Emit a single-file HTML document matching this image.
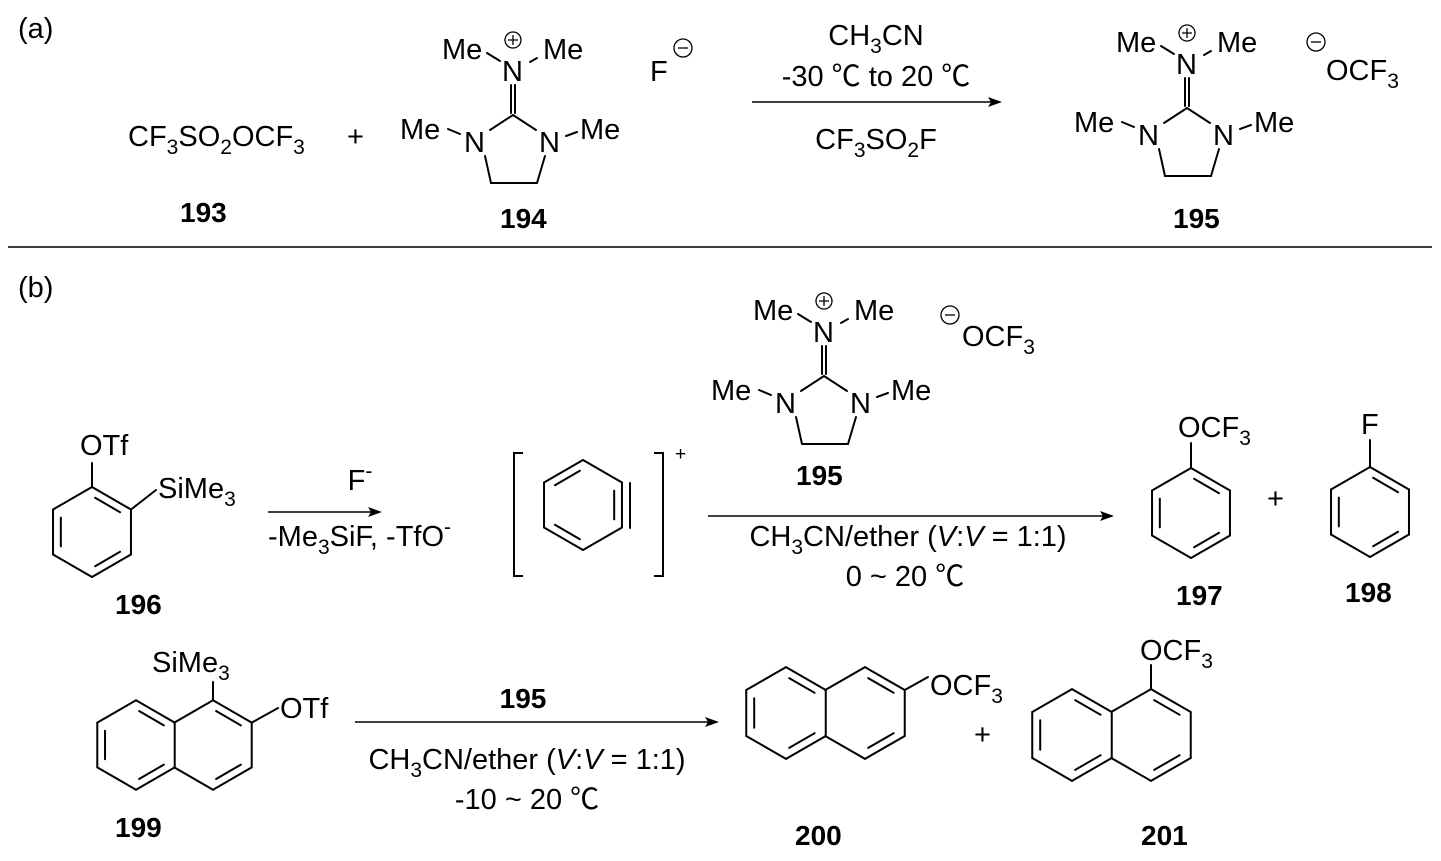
<!DOCTYPE html>
<html><head><meta charset="utf-8"><style>
html,body{margin:0;padding:0;background:#fff;}
svg{display:block;font-family:"Liberation Sans","Noto Sans CJK SC",sans-serif;}
text{font-size:29px;fill:#000;}
.b{font-weight:bold;font-size:28px;}
.s{font-size:21px;}
</style></head><body>
<svg id="sv" width="1441" height="861" viewBox="0 0 1441 861" xmlns="http://www.w3.org/2000/svg">
<g id="bonds" stroke="#000" stroke-width="2" fill="none" stroke-linecap="round"></g>
<text x="18" y="38">(a)</text>
<text x="128" y="146">CF<tspan class="s" dy="8">3</tspan><tspan dy="-8">SO</tspan><tspan class="s" dy="8">2</tspan><tspan dy="-8">OCF</tspan><tspan class="s" dy="8">3</tspan></text>
<text x="347" y="146">+</text>
<text class="b" x="180" y="222">193</text>
<text x="650" y="81">F</text>
<circle cx="683" cy="48" r="9" stroke="#000" stroke-width="1.3" fill="none"/>
<line x1="678" y1="48" x2="688" y2="48" stroke="#000" stroke-width="1.3"/>
<text class="b" x="500" y="228">194</text>
<text x="876" y="45" text-anchor="middle">CH<tspan class="s" dy="8">3</tspan><tspan dy="-8">CN</tspan></text>
<text x="876" y="86" text-anchor="middle">-30 ℃ to 20 ℃</text>
<text x="876" y="149" text-anchor="middle">CF<tspan class="s" dy="8">3</tspan><tspan dy="-8">SO</tspan><tspan class="s" dy="8">2</tspan><tspan dy="-8">F</tspan></text>
<circle cx="1316" cy="42" r="9" stroke="#000" stroke-width="1.3" fill="none"/>
<line x1="1311" y1="42" x2="1321" y2="42" stroke="#000" stroke-width="1.3"/>
<text x="1326" y="80">OCF<tspan class="s" dy="8">3</tspan></text>
<text class="b" x="1173" y="228">195</text>
<line x1="8" y1="247" x2="1432" y2="247" stroke="#000" stroke-width="1.5"/>
<text x="18" y="297">(b)</text>
<circle cx="950" cy="315" r="9" stroke="#000" stroke-width="1.3" fill="none"/>
<line x1="945" y1="315" x2="955" y2="315" stroke="#000" stroke-width="1.3"/>
<text x="962" y="346">OCF<tspan class="s" dy="8">3</tspan></text>
<text class="b" x="796" y="485">195</text>
<text x="80" y="455">OTf</text>
<text x="158" y="498">SiMe<tspan class="s" dy="8">3</tspan></text>
<text class="b" x="115" y="614">196</text>
<text x="360" y="490" text-anchor="middle">F<tspan class="s" dy="-12">-</tspan></text>
<text x="268" y="546">-Me<tspan class="s" dy="8">3</tspan><tspan dy="-8">SiF, -TfO</tspan><tspan class="s" dy="-12">-</tspan></text>
<text x="675" y="460" style="font-size:19px">+</text>
<text x="908" y="546" text-anchor="middle">CH<tspan class="s" dy="8">3</tspan><tspan dy="-8">CN/ether (</tspan><tspan font-style="italic">V</tspan>:<tspan font-style="italic">V</tspan> = 1:1)</text>
<text x="905" y="586" text-anchor="middle">0 ~ 20 ℃</text>
<text x="1178" y="437">OCF<tspan class="s" dy="8">3</tspan></text>
<text x="1361" y="434">F</text>
<text x="1267" y="508">+</text>
<text class="b" x="1176" y="605">197</text>
<text class="b" x="1345" y="602">198</text>
<text x="152" y="672">SiMe<tspan class="s" dy="8">3</tspan></text>
<text x="280" y="718">OTf</text>
<text class="b" x="115" y="837">199</text>
<text class="b" x="523" y="708" text-anchor="middle">195</text>
<text x="527" y="769" text-anchor="middle">CH<tspan class="s" dy="8">3</tspan><tspan dy="-8">CN/ether (</tspan><tspan font-style="italic">V</tspan>:<tspan font-style="italic">V</tspan> = 1:1)</text>
<text x="527" y="809" text-anchor="middle">-10 ~ 20 ℃</text>
<text x="930" y="695">OCF<tspan class="s" dy="8">3</tspan></text>
<text x="974" y="744">+</text>
<text class="b" x="795" y="845">200</text>
<text x="1140" y="660">OCF<tspan class="s" dy="8">3</tspan></text>
<text class="b" x="1141" y="845">201</text>
<g id="am1">
<text x="442" y="59">Me</text><text x="543" y="59">Me</text>
<text x="502" y="81">N</text>
<text x="400" y="139">Me</text><text x="580" y="139">Me</text>
<text x="464" y="152">N</text><text x="539" y="152">N</text>
<circle cx="513" cy="40" r="8" stroke="#000" stroke-width="1.3" fill="none"/>
<path d="M508 40H518M513 35V45" stroke="#000" stroke-width="1.3"/>
</g>
<use href="#am1" transform="translate(674,-7)"/>
<use href="#am1" transform="translate(311,261)"/>
<g stroke="#000" stroke-width="1.5">
<line x1="752" y1="102" x2="992" y2="102"/>
<line x1="268" y1="512" x2="372" y2="512"/>
<line x1="708" y1="516" x2="1104" y2="516"/>
<line x1="355" y1="722" x2="709" y2="722"/>
</g>
<g fill="#000">
<path d="M1002 102 L988 97 L991 102 L988 107Z"/>
<path d="M382 512 L368 507 L371 512 L368 517Z"/>
<path d="M1114 516 L1100 511 L1103 516 L1100 521Z"/>
<path d="M719 722 L705 717 L708 722 L705 727Z"/>
</g>
<path d="M523 453H514V576H523M654 453H663V576H654" stroke="#000" stroke-width="2" fill="none"/>
</svg>
<script>
var g=document.getElementById('bonds'),out='';
function L(a,b,c,d){out+='<line x1="'+a+'" y1="'+b+'" x2="'+c+'" y2="'+d+'"/>';}
function V(cx,cy,r){var v=[];for(var i=0;i<6;i++){var a=(-90+60*i)*Math.PI/180;v.push([cx+r*Math.cos(a),cy+r*Math.sin(a)]);}return v;}
function inner(cx,cy,v,i,j,k){k=k||0.2;var p=v[i],q=v[j];
var p1=[p[0]+(cx-p[0])*k,p[1]+(cy-p[1])*k],q1=[q[0]+(cx-q[0])*k,q[1]+(cy-q[1])*k];
var dx=q1[0]-p1[0],dy=q1[1]-p1[1];L(p1[0]+dx*.1,p1[1]+dy*.1,q1[0]-dx*.1,q1[1]-dy*.1);}
function ring(cx,cy,r,dbl,skip){var v=V(cx,cy,r);for(var i=0;i<6;i++){if(skip&&skip.indexOf(i)>=0)continue;var j=(i+1)%6;L(v[i][0],v[i][1],v[j][0],v[j][1]);}
(dbl||[]).forEach(function(e){inner(cx,cy,v,e[0],e[1]);});return v;}
function am(dx,dy){L(487+dx,53+dy,500+dx,61+dy);L(530+dx,62+dy,537+dx,58+dy);
L(511+dx,85+dy,511+dx,113+dy);L(515+dx,85+dy,515+dx,113+dy);
L(513+dx,115+dy,490+dx,130+dy);L(513+dx,115+dy,536+dx,130+dy);
L(448+dx,129+dy,460+dx,134+dy);L(566+dx,136+dy,577+dx,132+dy);
L(485+dx,156+dy,491+dx,183+dy);L(491+dx,183+dy,537+dx,183+dy);L(537+dx,183+dy,545+dx,156+dy);}
am(0,0);am(674,-7);am(311,261);
var v=ring(92,532,45,[[4,5],[0,1],[2,3]]);L(92,487,92,463);L(v[1][0],v[1][1],156,490);
v=ring(583,505,45,[[5,0],[3,4]]);inner(583,505,v,1,2,0.2);L(630,483,630,528);
ring(1191,513,45,[[4,5],[0,1],[2,3]]);L(1191,468,1191,443);
ring(1370,512,45,[[4,5],[0,1],[2,3]]);L(1370,467,1370,440);
var r=44.7;ring(136,745,r,[[4,5],[0,1],[2,3]]);v=ring(213,745,r,[[0,1],[2,3]],[4]);
L(213,700,213,682);L(v[1][0],v[1][1],278,708);
r=45.9;ring(786,713,r,[[4,5],[0,1],[2,3]]);v=ring(865,713,r,[[0,1],[2,3]],[4]);L(v[1][0],v[1][1],928,677);
ring(1072,735,r,[[4,5],[0,1],[2,3]]);v=ring(1151,735,r,[[0,1],[2,3]],[4]);L(1151,689,1151,665);
g.innerHTML=out;
</script>
</body></html>
